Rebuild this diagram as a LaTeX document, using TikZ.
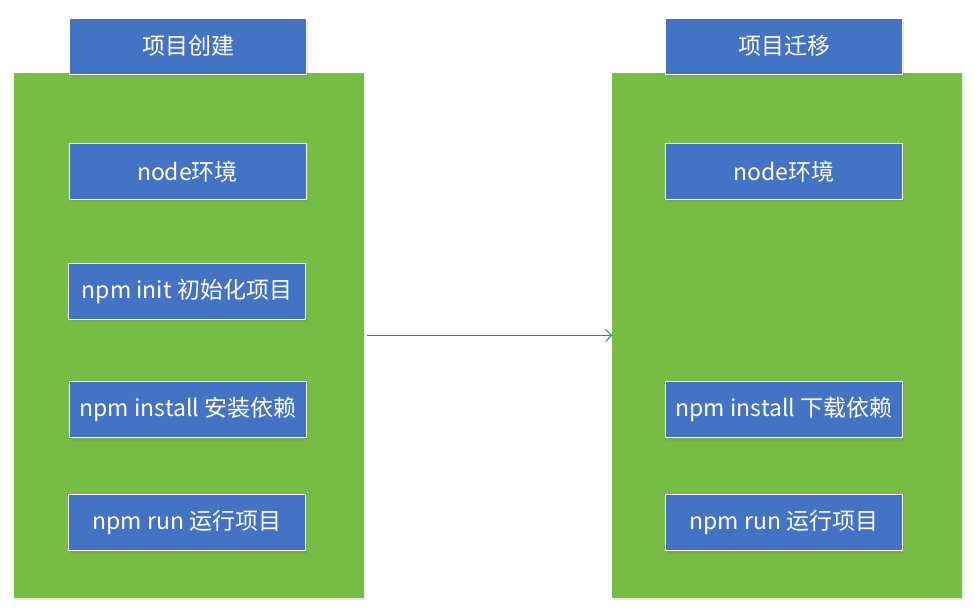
\documentclass[tikz,border=0pt]{standalone}
\usepackage{fontspec}
\setmainfont{Noto Sans CJK SC}
\usepackage{tikz}
\usetikzlibrary{arrows.meta,shadows}
\definecolor{boxblue}{HTML}{4472C4}
\definecolor{panelgreen}{HTML}{77BC43}
\tikzset{
  panel/.style={fill=panelgreen,draw=none,minimum width=350pt,minimum height=525pt,
    inner sep=0pt,drop shadow={opacity=0.2,shadow xshift=1pt,shadow yshift=-2pt}},
  stepbox/.style={fill=boxblue,draw=white,line width=0.8pt,text=white,
    minimum width=237pt,minimum height=56pt,inner sep=0pt,
    font=\fontsize{23}{27}\selectfont,
    drop shadow={opacity=0.25,shadow xshift=1pt,shadow yshift=-3pt}},
}

\begin{document}
\begin{tikzpicture}[x=1pt,y=-1pt]
  \useasboundingbox (0,0) rectangle (975,612);
  % panels
  \node[panel] (create) at (189,335.5) {};
  \node[panel] (move) at (786.5,335.5) {};
  % left column
  \node[stepbox] (createtitle) at (188,46) {项目创建};
  \node[stepbox] (createnode) at (187.5,171.5) {node环境};
  \node[stepbox] (createinit) at (187,291) {npm init 初始化项目};
  \node[stepbox] (createinstall) at (188,409.5) {npm install 安装依赖};
  \node[stepbox] (createrun) at (187,522.5) {npm run 运行项目};
  % right column
  \node[stepbox] (movetitle) at (784,46) {项目迁移};
  \node[stepbox] (movenode) at (784,171.5) {node环境};
  \node[stepbox] (moveinstall) at (784,409.5) {npm install 下载依赖};
  \node[stepbox] (moverun) at (784,522.5) {npm run 运行项目};
  % arrow
  \draw[boxblue,line width=1pt,-{Straight Barb[length=6pt,width=12pt]}] ([xshift=3pt]create.east) -- ([xshift=1pt]move.west);
\end{tikzpicture}
\end{document}
